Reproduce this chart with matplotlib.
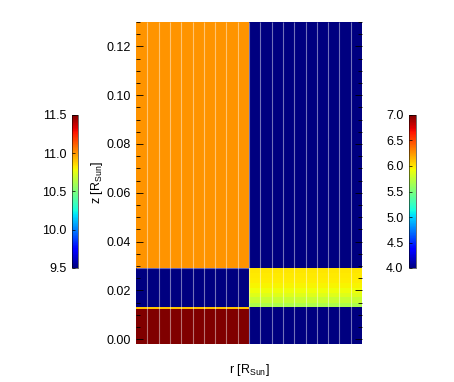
import numpy as np
import matplotlib.pyplot as plt
from matplotlib.colors import Normalize
from matplotlib.cm import ScalarMappable
from matplotlib.ticker import MultipleLocator

plt.rcParams['font.family'] = ['Liberation Sans', 'DejaVu Sans']
plt.rcParams['font.size'] = 9
plt.rcParams['mathtext.default'] = 'regular'

# Datos ########################################################################
# bordes de columnas en r (10 columnas por mitad)
r_left  = np.arange(0, 11)
r_right = np.arange(10, 21)

# mitad izquierda: bandas en z y valores (escala 9.5 - 11.5)
z_left = [-0.002, 0.0122, 0.0130, 0.0292, 0.130]
v_left = [11.5, 10.9, 9.5, 11.0]

# mitad derecha: bandas en z y valores (escala 4.0 - 7.0)
z_right = [-0.002, 0.0130, 0.0150, 0.0171, 0.0191, 0.0211, 0.0232,
           0.0252, 0.0272, 0.0292, 0.130]
v_right = [4.0, 5.68, 5.78, 5.86, 5.92, 5.95, 5.97, 5.99, 6.0, 4.0]

left_range  = (9.5, 11.5)
right_range = (4.0, 7.0)
left_ticks  = [9.5, 10.0, 10.5, 11.0, 11.5]
right_ticks = [4.0, 4.5, 5.0, 5.5, 6.0, 6.5, 7.0]

# Figura #######################################################################
fig = plt.figure(figsize=(4.54, 3.82), dpi=100)
ax = fig.add_axes([136/454, 1-344/382, 226/454, 322/382])

cl = np.tile(np.array(v_left)[:, None], (1, len(r_left)-1))
cr = np.tile(np.array(v_right)[:, None], (1, len(r_right)-1))
ax.pcolormesh(r_left, z_left, cl, cmap='jet', vmin=left_range[0], vmax=left_range[1])
ax.pcolormesh(r_right, z_right, cr, cmap='jet', vmin=right_range[0], vmax=right_range[1])

# líneas claras entre columnas
ax.vlines(np.arange(1, 20), -0.002, 0.13, color='white', alpha=0.45, lw=0.8)
ax.hlines(0.0292, 0, 10, color='white', alpha=0.4, lw=0.8)

ax.set_xlim(0, 20)
ax.set_ylim(-0.002, 0.13)
ax.set_xticks([])
ax.set_yticks(np.arange(0, 0.121, 0.02))
ax.yaxis.set_minor_locator(MultipleLocator(0.005))
ax.yaxis.set_major_formatter(plt.FormatStrFormatter('%.2f'))
ax.tick_params(axis='y', which='both', direction='in', right=True, pad=4)
ax.tick_params(axis='y', which='major', length=5, width=0.6)
ax.tick_params(axis='y', which='minor', length=3, width=0.6)
for s in ax.spines.values():
    s.set_visible(False)

ax.set_ylabel('z [R$_{Sun}$]')
ax.yaxis.set_label_coords(-0.135, 0.5)
ax.set_xlabel('r [R$_{Sun}$]', va='top')
ax.xaxis.set_label_coords(0.5, -0.056)

# Barras de color
def barra(pos, rango, ticks):
    cax = fig.add_axes(pos)
    sm = ScalarMappable(norm=Normalize(*rango), cmap='jet')
    cb = fig.colorbar(sm, cax=cax, ticks=ticks)
    cb.ax.yaxis.set_ticks_position('left')
    cb.ax.yaxis.set_label_position('left')
    cb.ax.yaxis.set_major_formatter(plt.FormatStrFormatter('%.1f'))
    cb.ax.tick_params(direction='in', length=2, width=0.5, pad=4)
    cb.outline.set_linewidth(0.4)
    return cb

barra([72/454, 1-268/382, 6/454, 153/382], left_range, left_ticks)
barra([409/454, 1-268/382, 7/454, 153/382], right_range, right_ticks)

fig.savefig('out.png', dpi=100)
